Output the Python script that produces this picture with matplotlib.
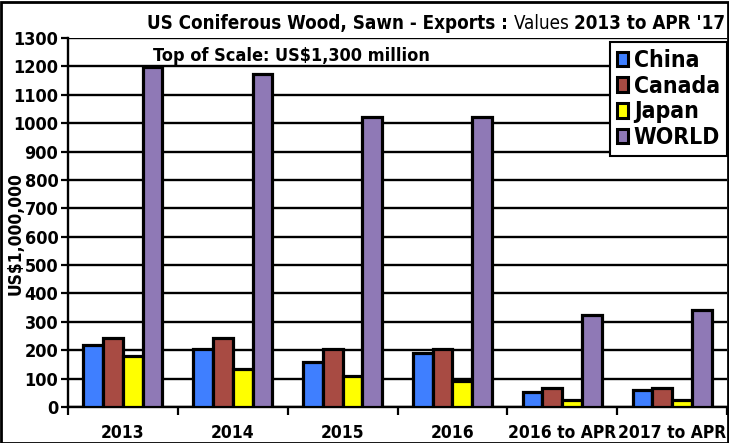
import matplotlib
matplotlib.use("Agg")
import matplotlib.pyplot as plt
from matplotlib.patches import Patch, Rectangle
import numpy as np

# data (US$ million)
categories = ["2013", "2014", "2015", "2016", "2016 to APR", "2017 to APR"]
china = [220, 205, 158, 190, 53, 60]
canada = [243, 243, 205, 205, 68, 68]
japan = [180, 133, 108, 93, 25, 25]
world = [1198, 1173, 1020, 1020, 323, 340]

series_names = ["China", "Canada", "Japan", "WORLD"]
colors = ["#3F7FFF", "#A84B43", "#FFFF00", "#8F79B6"]

plt.rcParams["font.family"] = ["DejaVu Sans"]
plt.rcParams["font.stretch"] = "condensed"


def main():
    W, H = 729, 443
    fig = plt.figure(figsize=(W / 100, H / 100), dpi=100)
    ax = fig.add_axes([68 / W, 1 - 407 / H, 659 / W, 369 / H])

    x = np.arange(len(categories))
    w = 0.18
    values = [china, canada, japan, world]
    for k, (vals, col) in enumerate(zip(values, colors)):
        ax.bar(x + (k - 1.5) * w, vals, width=w, color=col,
               edgecolor="black", linewidth=2.3, zorder=3)

    ax.set_xlim(-0.5, len(categories) - 0.5)
    ax.set_ylim(0, 1300)
    ax.set_yticks(np.arange(0, 1301, 100))
    ax.yaxis.grid(True, color="black", linewidth=1.7, zorder=0)
    ax.set_axisbelow(True)

    ax.set_xticks(x)
    ax.set_xticklabels(categories, fontsize=12.5, fontweight="bold")
    ax.set_xticks(np.arange(-0.5, len(categories)), minor=True)
    ax.tick_params(axis="x", which="major", length=0, pad=12)
    ax.tick_params(axis="x", which="minor", length=6, width=1.6, direction="out")
    ax.tick_params(axis="y", length=5, width=1.6, labelsize=13, pad=2)
    for lab in ax.get_yticklabels():
        lab.set_fontweight("bold")

    for side in ["top", "right"]:
        ax.spines[side].set_visible(False)
    ax.spines["left"].set_linewidth(1.7)
    ax.spines["bottom"].set_linewidth(1.7)

    fig.text(16 / W, 1 - 234 / H, "US$1,000,000", rotation=90,
             ha="center", va="center", fontsize=12.5, fontweight="bold")

    # title in mixed weights, right-aligned to the plot edge
    ty = 1 - 29 / H
    t3 = fig.text(725 / W, ty, "2013 to APR '17", fontsize=13.5, fontweight="bold",
                  ha="right", va="baseline")
    t2 = fig.text(0, ty, "Values ", fontsize=13.5, ha="right", va="baseline")
    t1 = fig.text(0, ty, "US Coniferous Wood, Sawn - Exports : ", fontsize=13.5,
                  fontweight="bold", ha="right", va="baseline")
    fig.canvas.draw()
    r = fig.canvas.get_renderer()
    x3 = t3.get_window_extent(r).x0
    t2.set_x(x3 / W)
    fig.canvas.draw()
    x2 = t2.get_window_extent(r).x0
    t1.set_x(x2 / W)

    fig.text(153 / W, 1 - 56 / H, "Top of Scale: US$1,300 million",
             fontsize=13, fontweight="bold", va="center")

    handles = [Patch(facecolor=c, edgecolor="black", linewidth=2.2) for c in colors]
    leg = ax.legend(handles, series_names, loc="upper right",
                    bbox_to_anchor=(1.0, 1 - 4 / 369), prop={"size": 16.5, "weight": "bold"},
                    handlelength=0.5, handleheight=0.6, handletextpad=0.25,
                    labelspacing=0.12, borderpad=0.3, borderaxespad=0,
                    fancybox=False, framealpha=1)
    leg.get_frame().set_edgecolor("black")
    leg.get_frame().set_linewidth(1.5)

    fig.patches.append(Rectangle((0.002, 0.0), 0.996, 0.995, transform=fig.transFigure,
                                 fill=False, edgecolor="black", linewidth=2))

    fig.savefig("out.png", dpi=100)


if __name__ == "__main__":
    main()
